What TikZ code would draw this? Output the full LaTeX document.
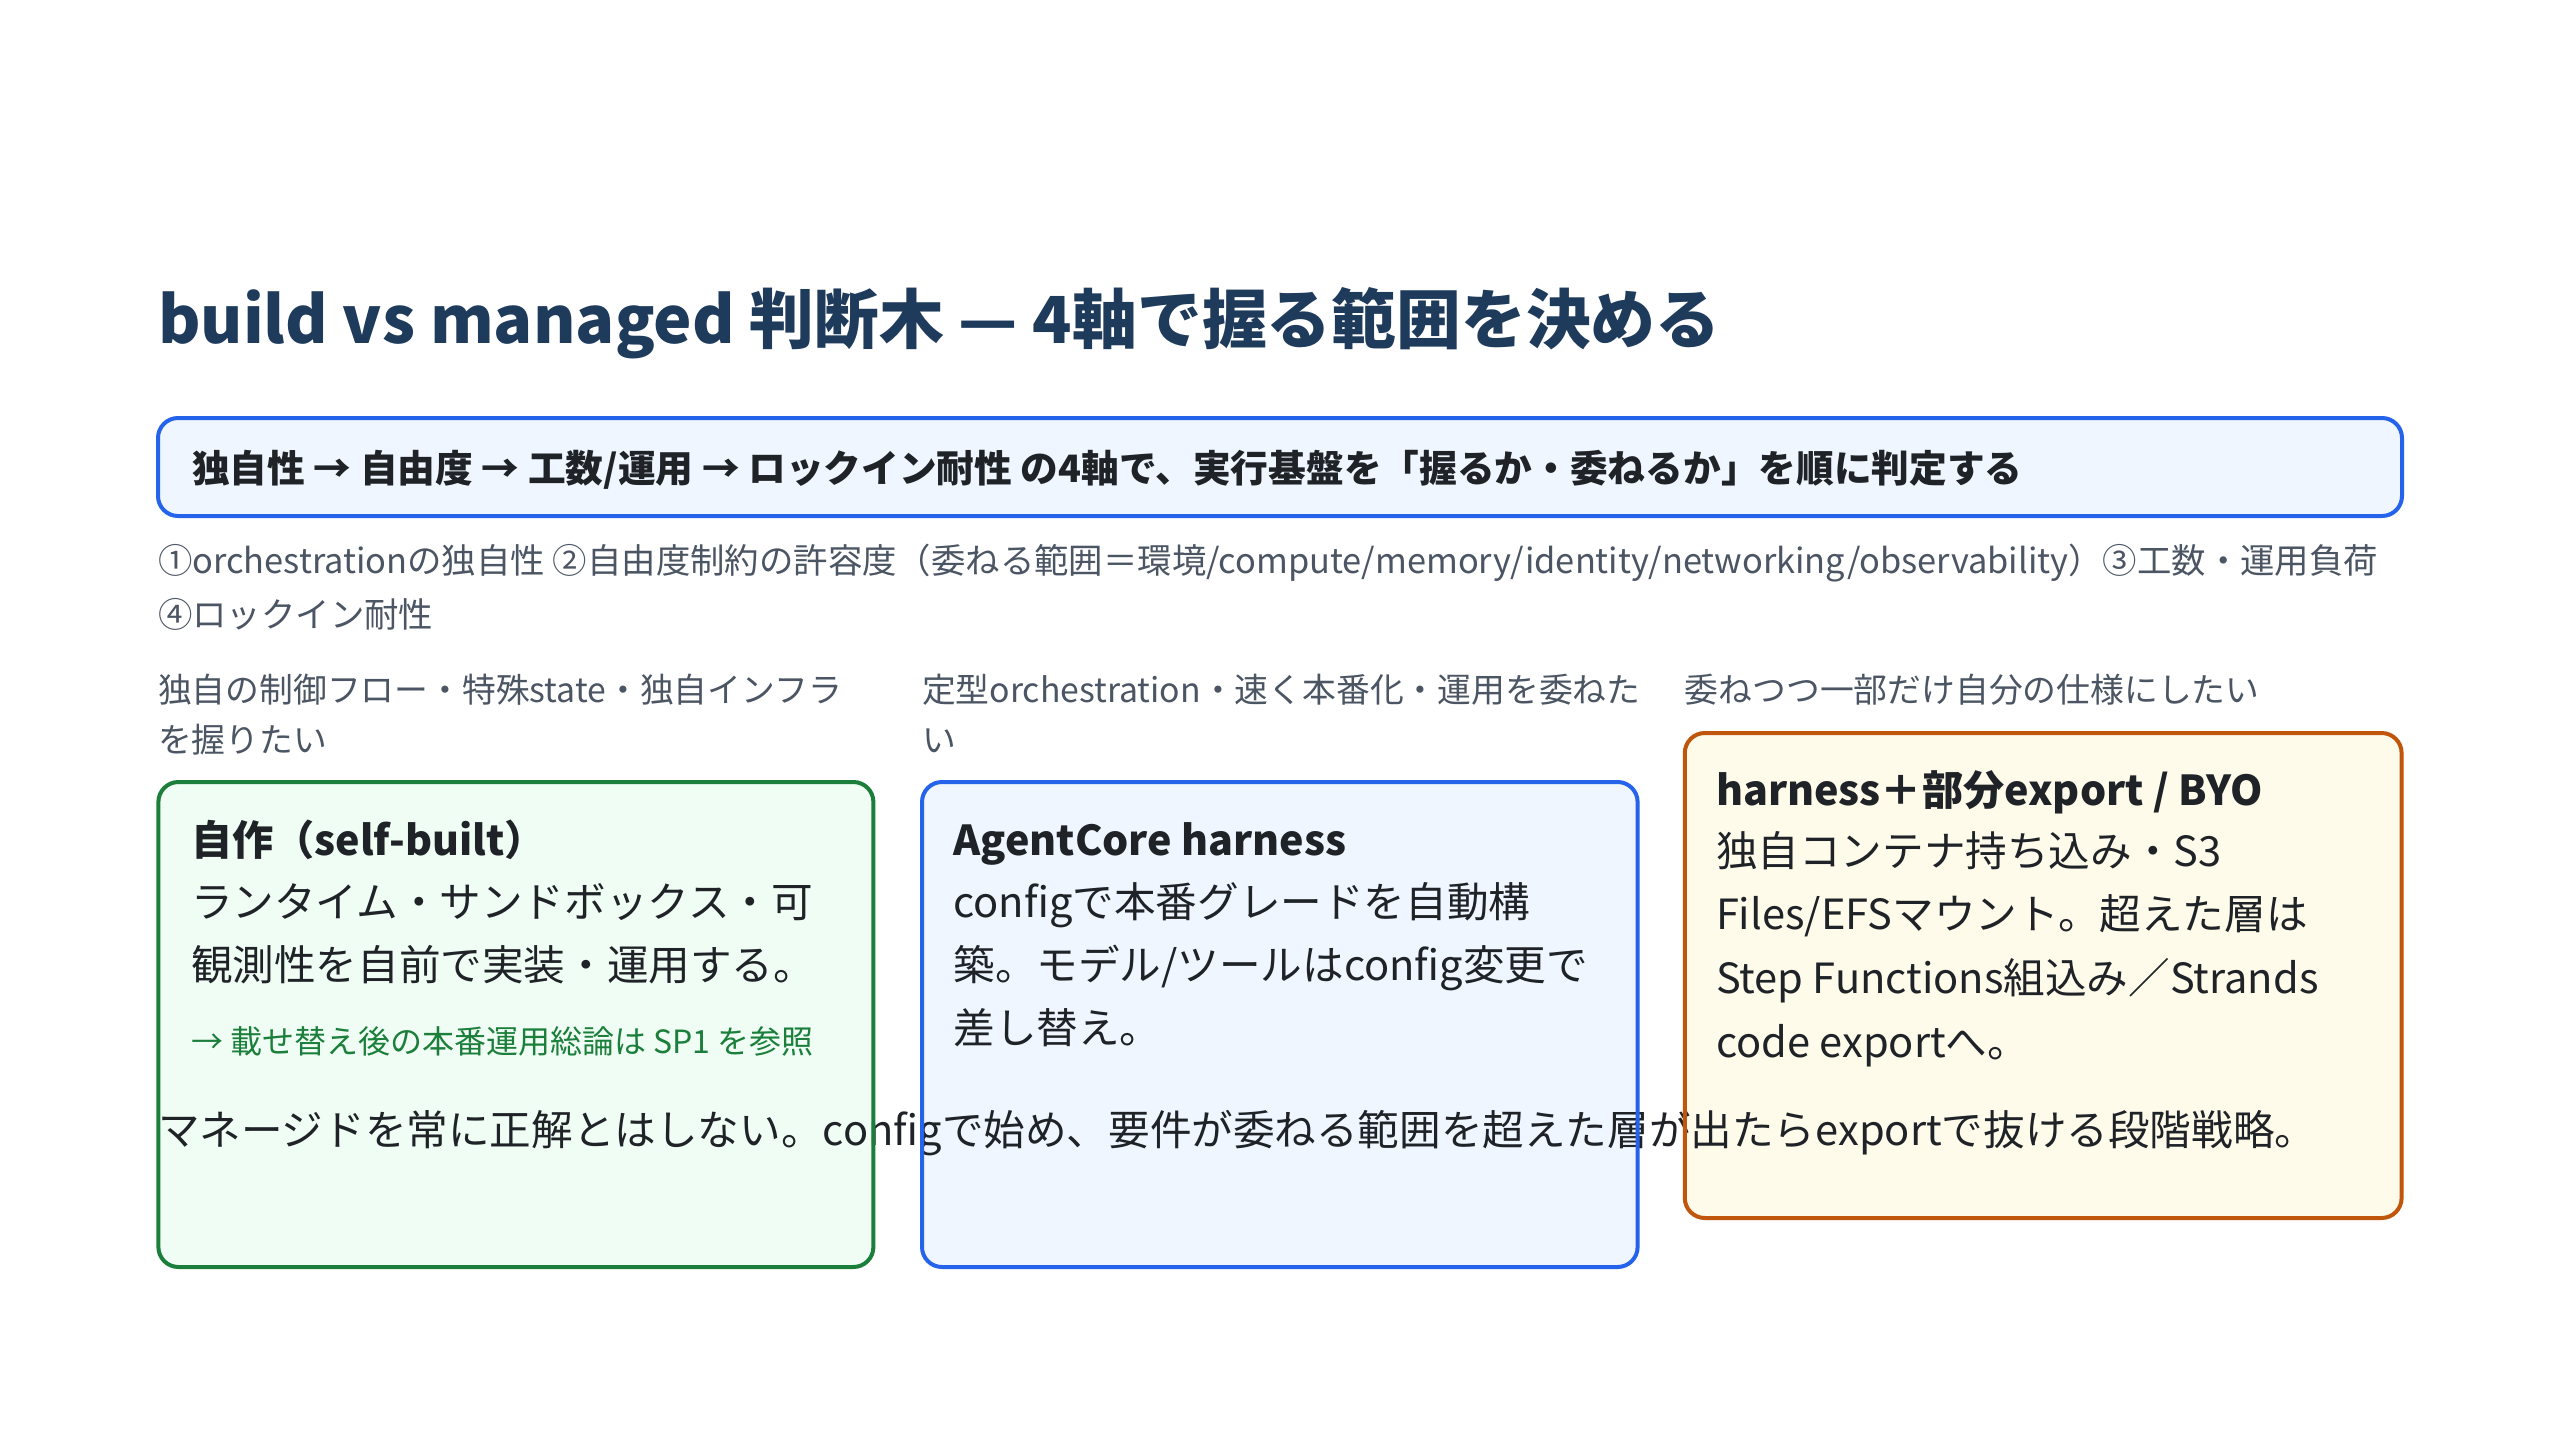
\documentclass[tikz,border=0pt]{standalone}
\usepackage{fontspec}
\setmainfont{Noto Sans CJK JP}
\definecolor{titlec}{HTML}{1F3B5C}
\definecolor{darkc}{HTML}{1F2328}
\definecolor{grayc}{HTML}{4B5563}
\definecolor{bluec}{HTML}{2563EB}
\definecolor{bluef}{HTML}{EFF6FF}
\definecolor{greenc}{HTML}{1B7F3B}
\definecolor{greenf}{HTML}{F0FDF4}
\definecolor{orangec}{HTML}{C0560C}
\definecolor{orangef}{HTML}{FEFBEA}
\begin{document}
\begin{tikzpicture}[x=1pt,y=-1pt,
  txt/.style={inner sep=0pt,outer sep=0pt,anchor=base west},
  titletxt/.style={txt,text=titlec,font=\fontsize{32.4}{40}\selectfont\bfseries},
  leadtxt/.style={txt,text=darkc,font=\fontsize{18.85}{24}\selectfont\bfseries},
  axistxt/.style={txt,text=grayc,font=\fontsize{17.2}{24}\selectfont},
  labeltxt/.style={txt,text=grayc,font=\fontsize{16.9}{24}\selectfont},
  headtxt/.style={txt,text=darkc,font=\fontsize{20.6}{28}\selectfont\bfseries},
  bodytxt/.style={txt,text=darkc,font=\fontsize{20.8}{28}\selectfont},
  notetxt/.style={txt,text=greenc,font=\fontsize{16}{22}\selectfont},
  boxfill/.style={rounded corners=10pt},
  boxline/.style={rounded corners=10pt,line width=2pt}
]
\useasboundingbox[fill=white] (0,0) rectangle (1280,720);

% title
\node[titletxt] (title) at (79,171.5) {build vs managed 判断木 — 4軸で握る範囲を決める};

% lead box
\draw[boxline,draw=bluec,fill=bluef] (79,209) rectangle (1201,258);
\node[leadtxt] (lead) at (96,241) {独自性 → 自由度 → 工数/運用 → ロックイン耐性 の4軸で、実行基盤を「握るか・委ねるか」を順に判定する};

% axes
\node[axistxt] (ax1) at (79,286.7) {①orchestrationの独自性 ②自由度制約の許容度（委ねる範囲＝環境/compute/memory/identity/networking/observability）③工数・運用負荷};
\node[axistxt] (ax2) at (79,313.7) {④ロックイン耐性};

% column labels
\node[labeltxt] (l1a) at (79,351) {独自の制御フロー・特殊state・独自インフラ};
\node[labeltxt] (l1b) at (79,376.3) {を握りたい};
\node[labeltxt] (l2a) at (461,351) {定型orchestration・速く本番化・運用を委ねた};
\node[labeltxt] (l2b) at (461,376.3) {い};
\node[labeltxt] (l3a) at (842.4,351) {委ねつつ一部だけ自分の仕様にしたい};

% box fills
\fill[boxfill,greenf] (79.2,391) rectangle (436.7,633.5);
\fill[boxfill,bluef] (461,391) rectangle (818.8,633.5);
\fill[boxfill,orangef] (842.4,366.5) rectangle (1200.8,609);

% box 1
\node[headtxt] (b1h) at (95.5,427.5) {自作（self-built）};
\node[bodytxt] (b1a) at (95.5,458.5) {ランタイム・サンドボックス・可};
\node[bodytxt] (b1b) at (95.5,490.3) {観測性を自前で実装・運用する。};
\node[notetxt] (b1n) at (95.5,526.9) {→ 載せ替え後の本番運用総論は SP1 を参照};

% box 2
\node[headtxt] (b2h) at (476.7,427.5) {AgentCore harness};
\node[bodytxt] (b2a) at (476.7,458.5) {configで本番グレードを自動構};
\node[bodytxt] (b2b) at (476.7,490.3) {築。モデル/ツールはconfig変更で};
\node[bodytxt] (b2c) at (476.7,521.9) {差し替え。};

% box 3
\node[headtxt] (b3h) at (858,402.9) {harness＋部分export / BYO};
\node[bodytxt] (b3a) at (858,433.2) {独自コンテナ持ち込み・S3};
\node[bodytxt] (b3b) at (858,464.9) {Files/EFSマウント。超えた層は};
\node[bodytxt] (b3c) at (858,496.9) {Step Functions組込み／Strands};
\node[bodytxt] (b3d) at (858,528.7) {code exportへ。};

% overflowing summary line
\node[bodytxt] (sum) at (79,572.9) {マネージドを常に正解とはしない。configで始め、要件が委ねる範囲を超えた層が出たらexportで抜ける段階戦略。};

% box borders
\draw[boxline,draw=greenc] (79.2,391) rectangle (436.7,633.5);
\draw[boxline,draw=bluec] (461,391) rectangle (818.8,633.5);
\draw[boxline,draw=orangec] (842.4,366.5) rectangle (1200.8,609);
\end{tikzpicture}
\end{document}
